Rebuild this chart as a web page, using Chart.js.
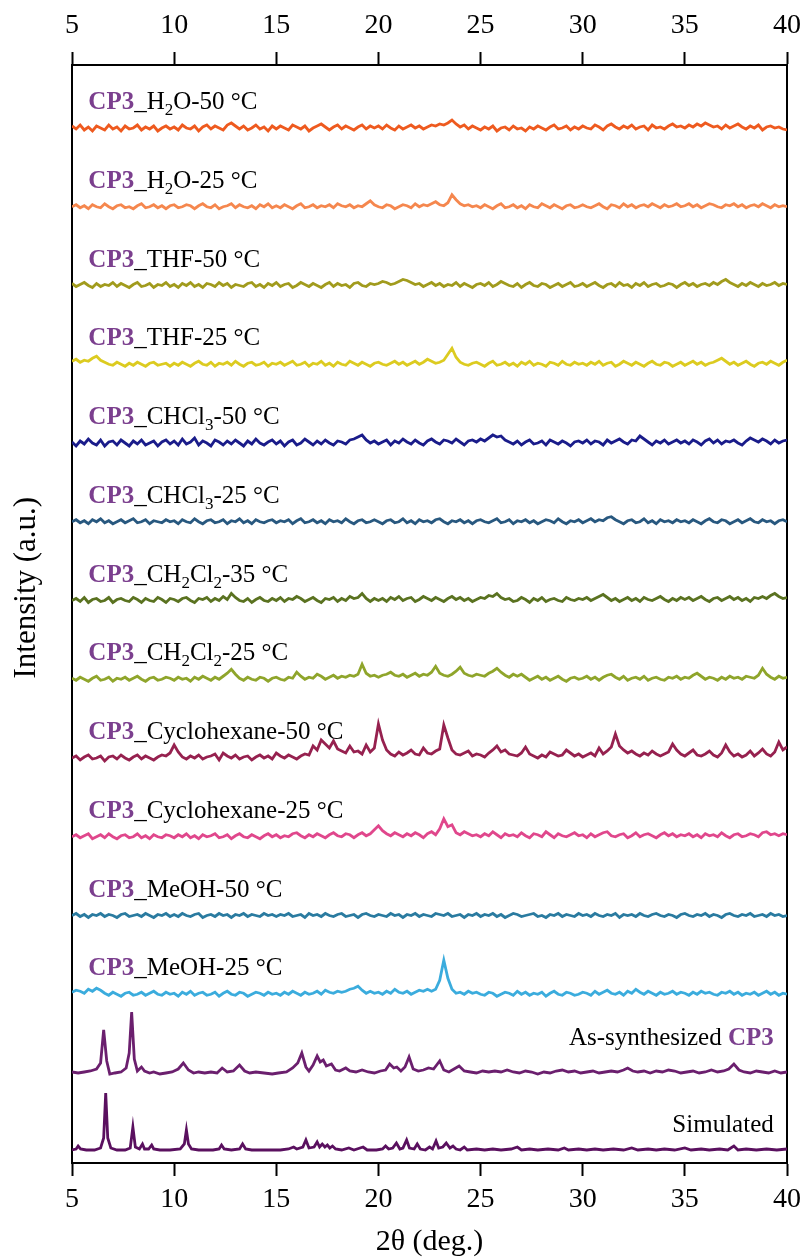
<!DOCTYPE html>
<html lang="en">
<head>
<meta charset="UTF-8">
<title>PXRD patterns of CP3</title>
<script src="https://cdn.jsdelivr.net/npm/chart.js@4.4.1/dist/chart.umd.min.js"></script>
<style>
  html, body { margin: 0; padding: 0; background: #fff; }
  #xrd { display: block; }
</style>
</head>
<body>
<canvas id="xrd" width="811" height="1260"></canvas>
<script>
// 2θ scan grid for the measured patterns: 5–40° every 0.2°
const scanStart = 5;
const scanStep = 0.2;
const scanCount = 176;
const scanAngles = Array.from({ length: scanCount }, (_, i) => +(scanStart + i * scanStep).toFixed(2));

// axis tick labels (both x axes)
const thetaTicks = [5, 10, 15, 20, 25, 30, 35, 40];

// measured intensities, one value per scan angle (rows of 25 = 5° each)
const h2o50 = [
  2,-1,3,-2,1,-3,2,0,-2,3,-1,1,-3,2,-1,0,3,-2,1,-1,2,-3,0,2,-1,
  1,-2,3,0,-1,2,-3,1,3,-1,2,0,-2,3,5,2,-1,2,-2,0,3,-1,1,-3,2,
  -1,2,0,-2,3,1,-1,2,-3,0,2,4,1,-2,1,3,-1,2,0,-2,1,3,-1,2,0,
  2,-1,3,0,-2,2,-1,1,3,0,2,-1,1,3,2,4,3,5,8,4,1,3,-1,2,0,
  -2,1,-1,2,-3,0,1,-2,2,-1,0,-3,1,-1,2,0,-2,1,3,-1,0,2,-2,1,-1,
  2,0,-1,3,1,-2,2,4,1,-1,2,0,3,-1,1,2,-2,3,0,1,-1,2,4,1,2,
  0,3,1,4,2,5,3,1,2,-1,3,0,2,4,1,-1,2,0,3,-2,1,2,0,1,-1,
  -2
];
const h2o25 = [
  0,2,-1,1,-2,2,0,-1,3,0,-2,1,2,-1,0,-2,1,3,-1,0,2,-1,1,-2,1,
  2,-1,0,2,1,-2,1,3,0,-1,2,-2,0,1,3,-1,2,0,-1,1,-2,2,0,3,-1,
  1,-1,2,0,-2,1,3,-1,0,2,-1,1,0,2,-1,3,1,0,2,-1,1,0,3,6,2,
  0,-1,2,1,-2,0,2,1,-1,3,0,2,1,3,5,2,1,4,12,7,3,1,2,0,1,
  -1,2,0,-2,1,3,-1,0,2,-1,1,-2,2,0,-1,3,1,-1,2,0,-2,1,2,-1,0,
  2,0,-1,1,3,0,-2,2,1,-1,3,0,2,-1,1,2,0,3,1,-1,2,0,1,3,0,
  1,3,0,2,-1,1,3,2,0,-1,2,1,3,0,2,-1,1,2,0,3,1,-1,2,0,1,
  0
];
const thf50 = [
  2,-1,1,3,0,-2,2,-1,1,0,3,-1,2,0,-2,1,3,-1,0,2,-2,1,0,3,-1,
  1,-2,2,0,3,-1,1,-2,2,1,-1,3,0,2,-2,1,0,-1,2,3,-1,1,-2,2,0,
  3,-1,1,2,-2,0,3,1,-1,2,0,-2,1,3,-1,2,0,1,-2,2,3,0,-1,2,1,
  2,4,3,1,2,4,6,5,3,1,2,-1,1,3,0,2,-1,1,0,3,-1,2,0,-2,1,
  2,0,3,-1,1,4,2,0,-1,2,-2,1,3,0,-1,2,1,-2,0,2,-1,1,3,-1,0,
  2,-1,1,3,0,-2,1,2,-1,3,0,1,-2,2,0,3,-1,1,2,-1,0,2,1,-2,1,
  3,0,2,-1,1,2,0,3,1,4,6,3,1,-1,2,0,3,1,-1,2,0,1,3,0,2,
  1
];
const thf25 = [
  3,5,2,4,3,6,8,4,2,0,-1,2,0,-2,1,-1,2,0,-2,1,2,-1,0,1,-2,
  1,-1,2,0,-2,1,3,0,-1,2,-2,1,0,2,-1,3,0,-2,1,2,-1,0,2,-2,1,
  0,2,-1,1,3,-1,0,2,-2,1,0,3,-1,1,-2,2,0,-1,3,1,-1,2,0,-2,1,
  2,0,-1,1,3,0,2,-1,1,3,0,2,5,3,1,2,4,10,16,7,2,0,-1,1,2,
  0,-2,1,3,-1,0,2,-1,1,-2,2,0,3,-1,1,0,-2,2,1,-1,3,0,-1,2,0,
  1,-1,2,0,3,-1,1,2,-2,0,3,1,-1,2,0,-2,1,3,0,-1,2,1,-2,0,2,
  -1,1,3,0,2,-1,1,2,4,6,3,0,2,-1,1,3,0,-2,1,2,0,3,1,-1,2,
  4
];
const chcl350 = [
  1,-3,2,-1,4,0,-2,3,-3,1,2,-2,3,0,-3,2,-1,3,-2,0,2,-3,1,3,-1,
  2,-2,4,-1,1,5,-2,2,0,-3,3,1,-2,2,-1,3,0,-3,2,-1,4,0,-2,1,3,
  -1,2,-3,1,3,-2,0,4,1,-2,2,-1,3,0,-2,2,1,-1,3,4,6,8,3,0,2,
  -1,1,3,-2,2,0,4,1,-1,3,0,-2,2,4,1,-1,3,2,0,4,1,-2,2,3,1,
  4,2,5,8,6,7,3,1,-1,2,-2,1,3,-1,0,2,-2,3,1,-1,2,0,-3,1,2,
  0,3,-1,2,1,-2,3,0,2,4,1,-1,3,2,7,4,1,-2,2,0,3,-1,1,3,0,
  2,-1,3,1,-2,2,4,0,3,-1,2,1,3,0,-2,2,5,3,1,4,2,-1,3,0,2,
  3
];
const chcl325 = [
  0,2,-1,1,-2,2,0,3,-1,1,-2,0,2,-1,1,3,-1,0,2,-2,1,0,-1,2,0,
  1,-2,2,0,-1,3,0,-2,1,2,-1,0,2,-2,1,0,3,-1,1,-2,2,0,-1,1,2,
  -1,1,0,2,-2,1,3,-1,0,2,-1,1,-2,2,0,1,-1,3,0,-2,1,2,-1,0,2,
  0,-2,1,2,-1,0,3,-1,1,-2,2,0,1,-1,2,3,0,-2,1,0,2,-1,1,-2,1,
  2,0,-1,1,3,-1,0,2,-2,1,0,2,-1,1,-2,0,2,1,-1,3,0,-2,1,0,2,
  -1,1,3,0,2,1,4,5,2,0,-2,1,2,-1,0,3,-1,1,-2,2,0,1,-1,2,0,
  1,-1,2,0,-2,1,3,0,-1,2,1,-2,0,2,-1,1,3,0,-1,2,0,1,-2,1,2,
  0
];
const ch2cl235 = [
  0,2,-1,3,-2,1,2,-1,0,3,-2,1,2,0,-1,3,1,-2,2,0,-1,3,1,-2,2,
  1,-1,2,3,0,-2,2,1,3,-1,2,0,4,1,7,3,0,-1,2,-2,1,3,0,-1,2,
  0,3,-1,2,1,4,2,-1,1,3,0,-2,2,1,3,-1,2,0,4,2,3,7,2,-1,2,
  0,2,-1,3,1,4,0,2,3,-1,1,4,2,0,3,1,-1,2,4,1,3,0,2,-1,1,
  3,2,5,4,7,3,1,2,-1,0,3,1,-2,2,0,3,-1,1,2,0,-1,3,1,0,2,
  1,3,0,2,4,6,3,0,2,-1,1,3,0,2,-1,3,1,0,2,4,1,-1,2,0,3,
  1,3,0,2,4,1,-1,2,3,0,2,4,1,3,0,2,-1,3,2,4,2,5,7,4,2,
  3
];
const ch2cl225 = [
  1,-1,2,0,-2,1,3,-1,0,2,-2,1,0,2,-1,1,3,0,-2,1,2,-1,0,2,1,
  -1,2,0,1,-2,2,0,3,1,-1,2,0,3,6,10,5,1,-1,2,0,-1,2,1,-2,1,
  2,0,-1,2,1,7,3,0,2,1,5,3,0,2,4,1,3,2,4,3,5,15,6,3,4,
  2,4,5,7,4,3,5,2,4,6,3,5,4,7,13,6,4,3,5,8,12,6,4,3,5,
  4,3,6,8,11,7,4,2,5,3,5,2,-1,1,3,0,2,-1,1,3,0,-2,1,2,0,
  1,3,0,2,-1,2,4,5,2,0,3,-1,1,2,0,3,-1,1,2,0,-1,2,1,3,0,
  2,1,4,6,3,0,2,1,-1,2,0,3,1,2,0,3,2,1,4,11,5,2,0,3,1,
  2
];
const cyclo50 = [
  0,2,-2,1,3,-1,0,2,-3,1,2,-1,3,0,-2,1,3,-1,2,0,-2,1,3,2,5,
  13,6,1,-1,2,0,3,-1,1,2,4,-2,5,2,0,3,-1,1,2,-2,1,3,0,2,-1,
  5,2,0,3,1,-1,2,4,3,12,8,18,14,10,17,9,7,5,12,6,7,4,13,6,10,
  34,18,8,4,2,6,3,5,8,4,3,10,5,4,7,9,33,20,8,4,3,5,7,2,4,
  3,1,5,8,12,6,8,4,3,2,5,11,4,2,0,3,1,6,4,2,3,8,5,2,4,
  1,3,5,2,10,4,7,11,24,12,8,5,7,4,2,5,3,7,4,2,4,6,14,8,4,
  2,5,8,3,2,4,7,3,1,5,13,6,2,4,1,3,7,2,5,9,4,2,6,16,8,
  11
];
const cyclo25 = [
  0,2,-1,1,3,-2,0,2,-1,3,0,-2,1,2,-1,0,3,-1,1,-2,2,0,-1,2,1,
  -1,2,0,3,-1,1,-2,2,0,1,3,-1,0,2,-2,1,3,0,-1,2,0,-2,1,3,0,
  2,-1,1,0,3,4,1,-1,2,0,3,1,-1,2,4,1,0,3,2,-1,2,4,1,3,7,
  11,6,3,1,4,2,0,3,1,4,2,-1,3,5,2,8,18,10,12,4,2,5,3,1,2,
  0,3,1,5,2,-1,3,1,2,0,4,1,-1,3,2,0,5,2,-1,3,1,0,2,4,1,
  2,-1,3,0,2,4,5,1,0,2,3,-1,1,4,0,2,3,1,-1,2,4,1,3,0,2,
  1,3,0,2,-1,3,1,2,0,4,1,-1,2,3,0,1,3,2,0,4,5,2,3,1,3,
  2
];
const meoh50 = [
  0,2,-1,1,-2,1,0,2,-1,1,0,-2,1,2,-1,0,1,-1,2,0,-2,1,0,2,-1,
  1,-1,2,0,-1,1,2,-2,0,1,-1,2,0,1,-2,1,0,2,-1,1,0,-1,2,0,1,
  -1,1,0,2,-1,0,1,-2,2,0,1,-1,2,0,-1,1,2,-1,0,1,-2,1,2,0,-1,
  1,0,-1,2,0,1,-2,1,0,2,-1,1,0,-1,2,1,0,2,-1,0,1,-2,1,0,2,
  -1,1,0,2,-1,1,-2,0,2,1,-1,0,1,2,-1,0,-2,1,0,2,-1,1,0,-1,2,
  0,1,-1,2,0,-1,1,0,2,-2,1,0,1,-1,2,0,-1,1,2,0,-1,1,0,-2,1,
  2,0,-1,1,0,2,-1,1,0,-2,1,2,0,-1,1,0,2,-1,0,1,-1,2,0,1,-1,
  0
];
const meoh25 = [
  2,4,3,1,5,3,6,4,1,-1,2,0,-2,1,2,-1,0,2,-1,1,3,0,-1,2,0,
  1,-2,2,0,3,-1,1,2,-1,0,2,-2,1,3,0,-1,2,1,-2,0,2,1,-1,2,0,
  1,-1,2,0,3,1,-1,2,0,1,3,0,4,2,1,3,2,3,5,6,8,4,1,3,1,
  2,0,3,1,5,2,1,3,0,2,4,3,5,3,5,14,34,16,5,1,2,0,3,1,2,
  0,-1,2,1,-2,0,2,1,-1,3,0,2,-1,1,0,2,-2,1,3,0,-1,2,1,-1,0,
  2,1,-1,3,0,2,4,1,0,2,-1,3,1,5,2,0,3,1,-1,2,0,1,3,0,2,
  1,-1,2,0,3,1,2,0,-1,2,1,3,0,2,-1,1,0,2,-1,1,3,0,2,-1,1,
  0
];

// as-synthesized bulk sample (2θ, intensity)
const asSynX = [
  5.0,5.3,5.6,5.9,6.2,6.4,6.55,6.7,6.85,7.1,7.4,7.65,7.8,7.92,8.05,8.2,8.4,8.55,8.8,9.0,
  9.3,9.6,9.9,10.2,10.45,10.7,10.95,11.2,11.5,11.8,12.1,12.35,12.6,12.9,13.2,13.45,13.7,14.0,14.4,14.8,
  15.1,15.5,15.8,16.05,16.25,16.45,16.6,16.8,17.0,17.15,17.3,17.45,17.7,17.9,18.1,18.4,18.6,18.9,19.2,19.5,
  19.8,20.1,20.35,20.55,20.75,20.9,21.1,21.3,21.5,21.7,21.95,22.2,22.45,22.7,23.0,23.2,23.45,23.7,23.95,24.2,
  24.5,24.8,25.1,25.4,25.7,26.0,26.3,26.6,26.9,27.2,27.5,27.8,28.1,28.4,28.7,29.0,29.3,29.6,29.9,30.2,
  30.5,30.8,31.1,31.4,31.7,32.0,32.2,32.45,32.7,33.0,33.3,33.6,33.9,34.2,34.5,34.8,35.1,35.4,35.7,36.0,
  36.3,36.6,36.9,37.15,37.4,37.65,37.9,38.2,38.5,38.8,39.1,39.4,39.7,40.0
];
const asSynY = [
  1,0,1,2,4,10,43,12,-1,0,1,5,20,61,14,2,6,2,0,1,
  -1,0,1,4,10,3,0,1,0,1,0,5,1,2,8,2,0,1,0,-1,
  0,1,5,10,20,6,2,8,17,11,13,7,9,3,2,5,2,1,3,1,
  0,2,3,9,5,6,2,6,16,4,2,3,5,4,12,3,1,4,7,2,
  1,0,2,1,2,1,3,1,0,2,1,-1,1,0,2,3,1,2,0,1,
  2,0,1,2,1,3,5,2,1,2,0,2,1,3,2,0,1,2,0,1,
  3,1,2,4,9,3,1,0,2,1,0,2,0,1
];

// pattern simulated from the single-crystal structure (2θ, intensity)
const simX = [
  5.0,5.2,5.3,5.42,5.7,6.1,6.4,6.55,6.65,6.75,6.9,7.2,7.6,7.85,7.98,8.1,8.3,8.45,8.55,8.75,
  8.9,9.0,9.3,9.8,10.3,10.5,10.6,10.7,10.85,11.2,11.9,12.2,12.32,12.45,12.8,13.2,13.35,13.5,13.8,14.5,
  15.2,15.6,15.85,16.0,16.3,16.45,16.6,16.85,17.0,17.12,17.25,17.38,17.5,17.62,17.75,17.9,18.2,18.55,18.8,19.25,
  19.45,19.9,20.2,20.35,20.5,20.7,20.88,21.05,21.2,21.38,21.52,21.75,21.9,22.05,22.3,22.5,22.65,22.82,22.95,23.15,
  23.32,23.5,23.65,23.8,24.0,24.2,24.35,24.8,25.2,25.6,26.0,26.5,26.8,27.0,27.4,27.8,28.3,28.8,29.1,29.3,
  29.8,30.2,30.6,31.0,31.5,32.0,32.4,32.7,33.2,33.6,34.0,34.5,35.0,35.3,35.8,36.2,36.7,37.1,37.4,37.6,
  38.0,38.5,39.0,39.5,40.0
];
const simY = [
  0,1,4,1,0,0,2,12,57,12,2,0,0,2,23,3,1,6,1,1,
  5,1,0,0,1,6,20,6,1,0,0,1,5,1,0,1,6,1,0,0,
  0,1,3,1,3,10,2,3,8,3,6,3,5,2,4,1,0,2,0,3,
  0,0,1,4,1,2,7,1,2,10,2,1,6,1,0,3,1,9,2,3,
  7,2,4,1,0,3,0,1,0,1,0,1,3,0,1,0,1,0,2,0,
  1,0,1,0,1,0,2,0,1,0,1,0,2,0,1,0,1,0,4,0,
  1,0,1,0,1
];

const serif = "'Liberation Serif', 'Times New Roman', serif";
const cp3Purple = '#7b3f8e';

// stacking: bottom trace sits just above the axis, the rest are spaced evenly
const simOffset = 13;
const firstOffset = 90;
const stackGap = 78.75;

// top to bottom; label parts: [text, 'b' bold purple | 's' subscript]
const traces = [
  { values: h2o50,    color: '#ee5a1f', label: [['CP3', 'b'], ['_H'], ['2', 's'], ['O-50 °C']] },
  { values: h2o25,    color: '#f5874e', label: [['CP3', 'b'], ['_H'], ['2', 's'], ['O-25 °C']] },
  { values: thf50,    color: '#a19b1d', label: [['CP3', 'b'], ['_THF-50 °C']] },
  { values: thf25,    color: '#dccb20', label: [['CP3', 'b'], ['_THF-25 °C']] },
  { values: chcl350,  color: '#1a1c8a', label: [['CP3', 'b'], ['_CHCl'], ['3', 's'], ['-50 °C']] },
  { values: chcl325,  color: '#28587f', label: [['CP3', 'b'], ['_CHCl'], ['3', 's'], ['-25 °C']] },
  { values: ch2cl235, color: '#5a7220', label: [['CP3', 'b'], ['_CH'], ['2', 's'], ['Cl'], ['2', 's'], ['-35 °C']] },
  { values: ch2cl225, color: '#8fa52b', label: [['CP3', 'b'], ['_CH'], ['2', 's'], ['Cl'], ['2', 's'], ['-25 °C']] },
  { values: cyclo50,  color: '#96214f', label: [['CP3', 'b'], ['_Cyclohexane-50 °C']] },
  { values: cyclo25,  color: '#e0478c', label: [['CP3', 'b'], ['_Cyclohexane-25 °C']] },
  { values: meoh50,   color: '#2a7ba0', label: [['CP3', 'b'], ['_MeOH-50 °C']] },
  { values: meoh25,   color: '#3bacdd', label: [['CP3', 'b'], ['_MeOH-25 °C']] },
  { xs: asSynX, values: asSynY, color: '#6b1f6e', label: [['As-synthesized '], ['CP3', 'b']], right: true, raise: 28 },
  { xs: simX,   values: simY,   color: '#5a105f', label: [['Simulated']], right: true, raise: 18 }
];

traces.forEach((tr, i) => {
  tr.offset = tr.xs === simX ? simOffset : firstOffset + stackGap * (traces.length - 2 - i);
});

const datasets = traces.map(tr => ({
  data: tr.values.map((v, i) => ({ x: tr.xs ? tr.xs[i] : scanAngles[i], y: tr.offset + v })),
  borderColor: tr.color,
  borderWidth: 2.8,
  pointRadius: 0,
  tension: 0,
  fill: false
}));

const axisFont = { family: serif, size: 28 };
const titleFont = { family: serif, size: 30 };

// sample names above each pattern, plus the intensity axis title
const traceLabels = {
  id: 'traceLabels',
  afterDatasetsDraw(chart) {
    const { ctx, scales } = chart;
    const xs = scales.x, ys = scales.y;
    ctx.save();
    ctx.textBaseline = 'alphabetic';
    ctx.textAlign = 'left';
    const fontFor = p => p[1] === 'b' ? `bold 25px ${serif}` : p[1] === 's' ? `17px ${serif}` : `25px ${serif}`;
    traces.forEach(tr => {
      const baseY = ys.getPixelForValue(tr.offset + (tr.raise || 19));
      let width = 0;
      tr.label.forEach(p => { ctx.font = fontFor(p); width += ctx.measureText(p[0]).width; });
      let px = tr.right ? xs.getPixelForValue(39.35) - width : xs.getPixelForValue(5.8);
      tr.label.forEach(p => {
        ctx.font = fontFor(p);
        ctx.fillStyle = p[1] === 'b' ? cp3Purple : '#000';
        ctx.fillText(p[0], px, p[1] === 's' ? baseY + 6 : baseY);
        px += ctx.measureText(p[0]).width;
      });
    });
    ctx.restore();
  },
  afterDraw(chart) {
    const { ctx, chartArea } = chart;
    ctx.save();
    ctx.translate(27, chartArea.top + chartArea.height * 0.476);
    ctx.rotate(-Math.PI / 2);
    ctx.font = `31px ${serif}`;
    ctx.fillStyle = '#000';
    ctx.textAlign = 'center';
    ctx.textBaseline = 'middle';
    ctx.fillText('Intensity (a.u.)', 0, 0);
    ctx.restore();
  }
};

function thetaAxis(position, pad, height, title) {
  return {
    type: 'linear',
    position,
    min: 5,
    max: 40,
    afterBuildTicks: s => { s.ticks = thetaTicks.map(v => ({ value: v })); },
    ticks: { color: '#000', font: axisFont, padding: pad, maxRotation: 0, autoSkip: false },
    grid: { drawOnChartArea: false, drawTicks: true, tickLength: 13, tickWidth: 2, tickColor: '#000' },
    border: { display: true, color: '#000', width: 2 },
    title: title ? { display: true, text: title, color: '#000', font: titleFont, padding: { top: 0, bottom: 0 } } : { display: false },
    afterFit: s => { s.height = height; }
  };
}

new Chart(document.getElementById('xrd'), {
  type: 'line',
  data: { datasets },
  options: {
    responsive: false,
    animation: false,
    layout: { padding: 0 },
    plugins: { legend: { display: false }, tooltip: { enabled: false } },
    scales: {
      x: thetaAxis('bottom', 7, 97, '2θ (deg.)'),
      xTop: thetaAxis('top', 10, 65, null),
      y: {
        type: 'linear',
        position: 'left',
        min: 0,
        max: 1098,
        ticks: { display: false },
        grid: { display: false },
        border: { display: true, color: '#000', width: 2 },
        afterFit: s => { s.width = 72; }
      },
      yRight: {
        type: 'linear',
        position: 'right',
        min: 0,
        max: 1098,
        ticks: { display: false },
        grid: { display: false },
        border: { display: true, color: '#000', width: 2 },
        afterFit: s => { s.width = 19; }
      }
    }
  },
  plugins: [traceLabels]
});
</script>
</body>
</html>
